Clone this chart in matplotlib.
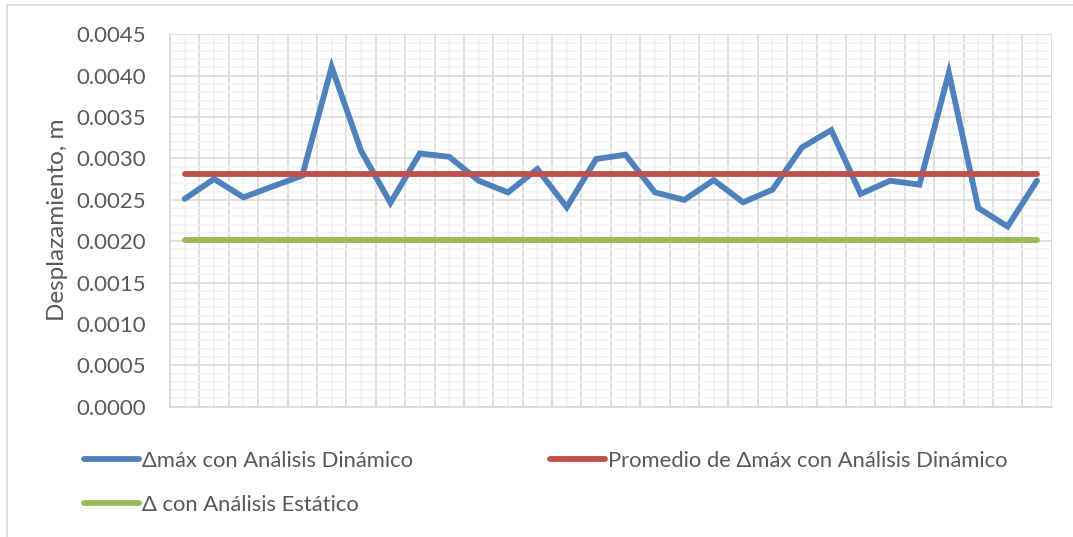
import matplotlib
matplotlib.use("Agg")
import matplotlib.pyplot as plt
from matplotlib.lines import Line2D
from matplotlib.patches import Rectangle
from matplotlib.ticker import MultipleLocator, FixedLocator

# Valores (30 registros)
registro = list(range(1, 31))
delta_dinamico = [
    0.002511, 0.002752, 0.002530, 0.002663, 0.002792, 0.004105, 0.003093, 0.002463, 0.003060, 0.003020,
    0.002731, 0.002590, 0.002872, 0.002410, 0.002993, 0.003045, 0.002590, 0.002499, 0.002739, 0.002470,
    0.002623, 0.003133, 0.003342, 0.002571, 0.002731, 0.002683, 0.004036, 0.002402, 0.002177, 0.002731,
]
promedio_dinamico = [0.002812] * 30
delta_estatico = [0.00202] * 30

labels = [
    "Δmáx con Análisis Dinámico",
    "Promedio de Δmáx con Análisis Dinámico",
    "Δ con Análisis Estático",
]
colors = ["#4F81BD", "#C0504D", "#9BBB59"]
TEXT = "#595959"
GRID_MAJOR = "#D9D9D9"
GRID_MINOR = "#F2F2F2"
FONT = ["Lato", "DejaVu Sans"]

W, H, DPI = 1073, 537, 100
plt.rcParams["font.family"] = FONT

fig = plt.figure(figsize=(W / DPI, H / DPI), dpi=DPI, facecolor="white")
ax = fig.add_axes((170 / W, 1 - 406.7 / H, 881.7 / W, 372.4 / H))

lw = 4.2
for series, c in zip((delta_dinamico, promedio_dinamico, delta_estatico), colors):
    ax.plot(registro, series, color=c, lw=lw, solid_capstyle="round", solid_joinstyle="miter", zorder=3)

ax.set_xlim(0.5, 30.5)
ax.set_ylim(0, 0.0045)
ax.yaxis.set_major_locator(MultipleLocator(0.0005))
ax.yaxis.set_minor_locator(MultipleLocator(0.0001))
ax.xaxis.set_major_locator(FixedLocator([i + 0.5 for i in range(0, 31)]))
ax.xaxis.set_minor_locator(FixedLocator(registro))
ax.set_xticklabels([])
ax.yaxis.set_major_formatter(matplotlib.ticker.FuncFormatter(lambda v, p: f"{v:.4f}"))

ax.grid(which="major", color=GRID_MAJOR, lw=1.2, zorder=1)
ax.grid(which="minor", color=GRID_MINOR, lw=1.2, zorder=0)
ax.set_axisbelow(True)
ax.tick_params(which="both", length=0)
ax.tick_params(axis="y", labelsize=16, labelcolor=TEXT, pad=17)
for side in ("top", "right"):
    ax.spines[side].set_visible(False)
for side in ("left", "bottom"):
    ax.spines[side].set_color(GRID_MAJOR)
    ax.spines[side].set_linewidth(1.2)

fig.text(57 / W, 1 - 220 / H, "Desplazamiento, m", rotation=90, ha="center", va="center",
         fontsize=17.5, color=TEXT)

# Leyenda (estilo Excel, dos columnas)
legend_items = [
    (0, 84, 459),
    (1, 550, 459),
    (2, 84, 503),
]
for idx, x0, y in legend_items:
    fig.add_artist(Line2D([x0 / W, (x0 + 55) / W], [1 - y / H, 1 - y / H], transform=fig.transFigure,
                          color=colors[idx], lw=lw, solid_capstyle="round"))
    fig.text((x0 + 58) / W, 1 - y / H, labels[idx], ha="left", va="center_baseline",
             fontsize=15.8, color=TEXT)

# Borde del área del gráfico
fig.add_artist(Rectangle((7 / W, -0.05), 1.2, 1 - 5 / H + 0.05, transform=fig.transFigure,
                         fill=False, edgecolor=GRID_MAJOR, lw=1.2))

fig.savefig("out.png", dpi=DPI, facecolor="white")
